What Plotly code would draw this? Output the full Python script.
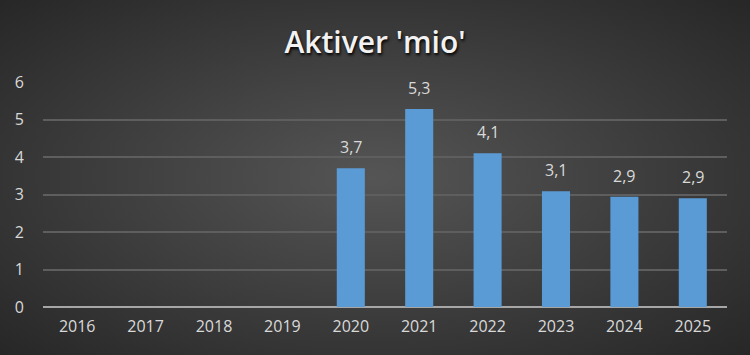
import plotly.graph_objects as go
import base64

years = ["2016", "2017", "2018", "2019", "2020", "2021", "2022", "2023", "2024", "2025"]
values = [None, None, None, None, 3.7, 5.28, 4.1, 3.09, 2.94, 2.9]
y_ticks = [0, 1, 2, 3, 4, 5, 6]

W, H = 750, 355
ml, mr, mt, mb = 43, 23, 82, 48
pw, ph = W - ml - mr, H - mt - mb

svg = f'''<svg xmlns="http://www.w3.org/2000/svg" width="{W}" height="{H}" viewBox="0 0 {W} {H}" preserveAspectRatio="none">
<defs><radialGradient id="g" cx="50%" cy="50%" r="75%">
<stop offset="0%" stop-color="#555555"/><stop offset="100%" stop-color="#242424"/>
</radialGradient></defs>
<rect width="{W}" height="{H}" fill="url(#g)"/></svg>'''
src = "data:image/svg+xml;base64," + base64.b64encode(svg.encode()).decode()

FONT = "Open Sans"
fig = go.Figure()
fig.add_trace(go.Bar(
    x=years, y=values,
    marker=dict(color="#5b9bd5", line=dict(width=0)),
    hoverinfo="skip",
))

# category axis: annotation x given as category index
labels = [dict(x=i, y=v, text=f"{v:.1f}".replace(".", ","), showarrow=False,
               yanchor="bottom", yshift=8,
               font=dict(color="#d9d9d9", size=16, family=FONT))
          for i, v in enumerate(values) if v is not None]

fig.update_layout(
    width=W, height=H,
    margin=dict(l=ml, r=mr, t=mt, b=mb),
    paper_bgcolor="#3a3a3a",
    plot_bgcolor="rgba(0,0,0,0)",
    bargap=0.59,
    showlegend=False,
    annotations=labels,
    title=dict(text="Aktiver 'mio'", x=0.5, xanchor="center", y=0.88, yanchor="middle",
               font=dict(color="#f2f2f2", size=30, family=FONT, weight=600,
                         shadow="1px 2px 3px #000000")),
    images=[dict(source=src, xref="paper", yref="paper",
                 x=-ml / pw, y=1 + mt / ph, sizex=W / pw, sizey=H / ph,
                 xanchor="left", yanchor="top", sizing="stretch", layer="below")],
    xaxis=dict(type="category", showgrid=False, tickfont=dict(color="#d9d9d9", size=16, family=FONT),
               ticks="", showline=False, zeroline=False, ticklabelstandoff=8),
    yaxis=dict(range=[0, 6], tickvals=y_ticks, showgrid=True, gridcolor="#5e5e5e", gridwidth=1.5,
               tickfont=dict(color="#d9d9d9", size=16, family=FONT), ticks="",
               zeroline=True, zerolinecolor="#a6a6a6", zerolinewidth=2, ticklabelstandoff=18),
)

fig.write_html("out.html")
